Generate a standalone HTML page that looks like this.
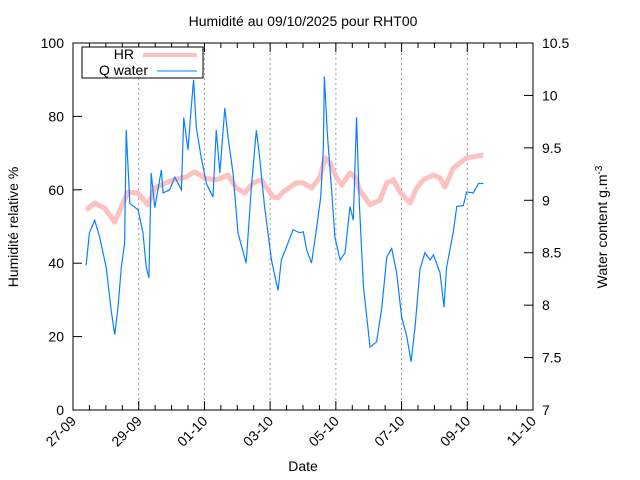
<!DOCTYPE html>
<html><head><meta charset="utf-8"><style>
body{margin:0;background:#fff;}
svg{display:block;font-family:"Liberation Sans",sans-serif;}
</style></head><body>
<svg id="chart" width="640" height="480" viewBox="0 0 640 480" xmlns="http://www.w3.org/2000/svg">
<rect width="640" height="480" fill="#fff"/>
<text x="303" y="26" font-size="14" text-anchor="middle">Humidité au 09/10/2025 pour RHT00</text>
<text transform="translate(18,227) rotate(-90)" font-size="14" text-anchor="middle">Humidité relative %</text>
<text transform="translate(607,227) rotate(-90)" font-size="14" text-anchor="middle">Water content g.m<tspan dy="-5" font-size="10">-3</tspan></text>
<text x="303" y="471" font-size="14" text-anchor="middle">Date</text>
<g id="grid"></g><g id="axes"></g><g id="series"></g>
<g>
<rect x="82" y="47" width="121" height="31" fill="#fff" stroke="#000" stroke-width="1"/>
<text x="134" y="59" font-size="14" text-anchor="end">HR</text>
<line x1="143" y1="55" x2="197" y2="55" stroke="#ffc0c0" stroke-width="4"/>
<text x="148" y="75" font-size="14" text-anchor="end">Q water</text>
<line x1="157" y1="71" x2="197" y2="71" stroke="#0a80ff" stroke-width="1"/>
</g>
</svg>
<script>
const xTickLabels=["27-09","29-09","01-10","03-10","05-10","07-10","09-10","11-10"];
const yTicks=[0,20,40,60,80,100];
const y2Ticks=[7,7.5,8,8.5,9,9.5,10,10.5];
const hrDays=[0.40,0.66,0.96,1.27,1.52,1.67,1.98,2.28,2.49,3.04,3.45,3.70,4.01,4.36,4.72,4.97,5.23,5.48,5.73,6.09,6.24,6.39,6.80,7.00,7.26,7.52,7.67,7.82,8.03,8.18,8.43,8.58,8.73,9.04,9.34,9.55,9.75,9.95,10.26,10.46,10.66,10.97,11.17,11.32,11.57,11.98,12.49];
const hrValues=[54.5,56.4,55.0,51.2,56.4,59.4,59.1,55.9,60.5,62.7,63.5,64.9,63.2,62.7,64.0,60.5,59.1,61.9,62.7,58.0,57.8,59.4,61.9,61.9,60.5,63.5,68.7,67.3,63.2,61.3,64.6,63.5,59.9,55.9,57.2,61.9,62.7,59.4,56.4,60.5,62.7,64.0,63.2,60.8,65.9,68.7,69.5];
const qDays=[0.40,0.50,0.66,0.81,1.01,1.17,1.27,1.37,1.47,1.57,1.62,1.73,1.98,2.13,2.23,2.31,2.38,2.49,2.69,2.74,2.94,3.10,3.30,3.37,3.50,3.60,3.67,3.75,3.90,4.06,4.26,4.36,4.47,4.62,4.72,4.87,5.02,5.27,5.43,5.58,5.68,5.83,6.04,6.24,6.34,6.49,6.70,6.90,7.01,7.11,7.26,7.42,7.54,7.62,7.65,7.74,7.87,7.97,8.13,8.28,8.43,8.53,8.63,8.71,8.84,8.94,9.04,9.24,9.40,9.55,9.70,9.85,10.00,10.16,10.29,10.41,10.56,10.71,10.87,10.97,11.17,11.29,11.37,11.57,11.68,11.88,11.98,12.18,12.34,12.49];
const qValues=[8.38,8.69,8.81,8.65,8.36,7.93,7.72,7.98,8.36,8.59,9.67,8.97,8.91,8.69,8.36,8.26,9.26,8.93,9.29,9.07,9.10,9.22,9.10,9.79,9.48,9.89,10.15,9.70,9.41,9.16,9.03,9.67,9.26,9.88,9.60,9.26,8.69,8.40,9.13,9.67,9.41,8.94,8.43,8.14,8.43,8.55,8.72,8.69,8.70,8.53,8.40,8.75,9.03,9.51,10.18,9.64,9.10,8.65,8.43,8.50,8.94,8.81,9.79,9.00,8.17,7.89,7.60,7.65,7.98,8.46,8.54,8.31,7.89,7.70,7.46,7.79,8.34,8.50,8.43,8.48,8.31,7.98,8.36,8.69,8.94,8.95,9.08,9.07,9.16,9.16];
const NS="http://www.w3.org/2000/svg";
const L=73,R=533,T=43,B=410;
const xs=d=>L+d*(R-L)/14;
const ys=v=>B-v*(B-T)/100;
const y2s=v=>B-(v-7)*(B-T)/3.5;
function mk(tag,attrs,parent){const e=document.createElementNS(NS,tag);for(const k in attrs)e.setAttribute(k,attrs[k]);parent.appendChild(e);return e;}
const grid=document.getElementById('grid'),axes=document.getElementById('axes'),series=document.getElementById('series');
for(let i=1;i<xTickLabels.length-1;i++){const g=mk('line',{x1:xs(i*2),x2:xs(i*2),y1:T,y2:B,stroke:'#999','stroke-dasharray':'2,3'},grid);

}
const frame=mk('rect',{x:L,y:T,width:R-L,height:B-T,fill:'none',stroke:'#000'},axes);


for(let h=1;h<28;h++){const x=xs(h/2),len=(h%4==0)?9:5;
mk('line',{x1:x,x2:x,y1:B,y2:B-len,stroke:'#000'},axes);mk('line',{x1:x,x2:x,y1:T,y2:T+len,stroke:'#000'},axes);}
xTickLabels.forEach((t,i)=>{const x=xs(i*2);const tx=mk('text',{transform:`translate(${x+4},${B+12}) rotate(-45)`,'font-size':14,'text-anchor':'end'},axes);tx.textContent=t;

});
yTicks.forEach(v=>{const y=ys(v);mk('line',{x1:L,x2:L+9,y1:y,y2:y,stroke:'#000'},axes);
const tx=mk('text',{x:L-9,y:y+5,'font-size':14,'text-anchor':'end'},axes);tx.textContent=v;

});
y2Ticks.forEach(v=>{const y=y2s(v);mk('line',{x1:R,x2:R-9,y1:y,y2:y,stroke:'#000'},axes);
const tx=mk('text',{x:R+9,y:y+5,'font-size':14,'text-anchor':'start'},axes);tx.textContent=v;

});
const hr=mk('polyline',{points:hrDays.map((d,i)=>xs(d)+','+ys(hrValues[i])).join(' '),fill:'none',stroke:'#ffc0c0','stroke-width':5,'stroke-linejoin':'round'},series);


const q=mk('polyline',{points:qDays.map((d,i)=>xs(d)+','+y2s(qValues[i])).join(' '),fill:'none',stroke:'#0a80ff','stroke-width':1.2},series);


</script>
</body></html>
